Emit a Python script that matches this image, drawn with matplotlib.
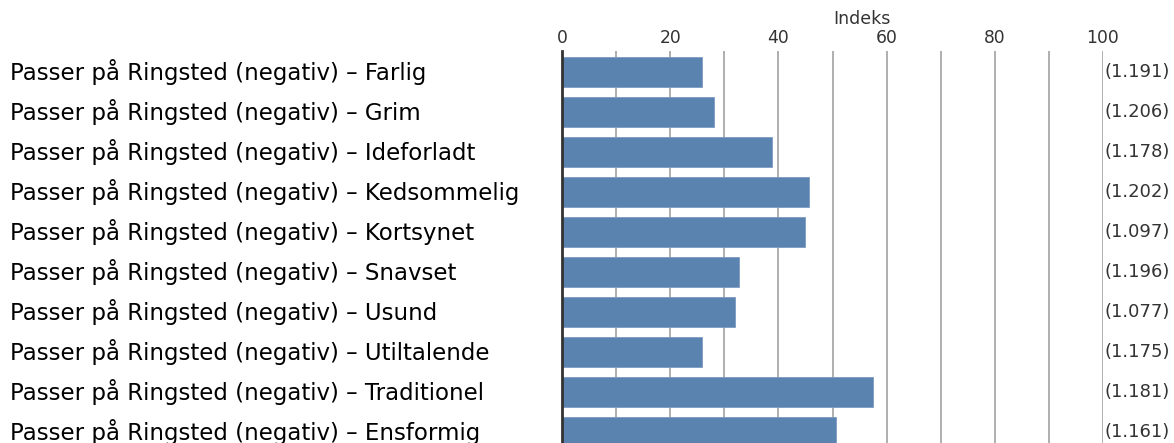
import numpy
import matplotlib
matplotlib.use('Agg')
import matplotlib.pyplot
import matplotlib.transforms

prefix = 'Passer på Ringsted (negativ) – '
categories = ['Farlig', 'Grim', 'Ideforladt', 'Kedsommelig', 'Kortsynet',
              'Snavset', 'Usund', 'Utiltalende', 'Traditionel', 'Ensformig']
values = [25.9, 28.1, 38.9, 45.7, 45.0, 32.8, 31.9, 25.9, 57.4, 50.6]
side_values = ['1.191', '1.206', '1.178', '1.202', '1.097',
               '1.196', '1.077', '1.175', '1.181', '1.161']
x_ticks = [0, 20, 40, 60, 80, 100]

matplotlib.rcParams['font.family'] = ['DejaVu Sans']

figure = matplotlib.pyplot.figure(figsize=(11.74, 4.43), dpi=100, facecolor='white')
# axes placed by pixel: 0 at x=562, 100 at x=1103, top at y=51, bottom at figure edge
ax = figure.add_axes([562 / 1174, 0, (1103 - 562) / 1174, (443 - 51) / 443])

y = numpy.arange(len(categories))
ax.barh(y, values, height=0.75, color='#5a83b0', edgecolor='#7d9cc2', linewidth=0.6, zorder=3)

ax.set_xlim(0, 100)
ax.set_ylim(9.28, -0.52)

# grid every 10
for g in range(10, 101, 10):
    ax.axvline(g, color='#9a9a9a', linewidth=1.1, zorder=1)

ax.set_xticks(x_ticks)
ax.set_xticklabels([str(t) for t in x_ticks], fontsize=12.3, color='#333333')
ax.xaxis.tick_top()
ax.tick_params(axis='x', length=0, pad=3)
ax.set_yticks([])

for side in ['top', 'right', 'bottom']:
    ax.spines[side].set_visible(False)
ax.spines['left'].set_color('#333333')
ax.spines['left'].set_linewidth(2)
ax.spines['left'].set_zorder(4)

figure.text(862 / 1174, 1 - 19 / 443, 'Indeks', ha='center', va='center',
            fontsize=12.5, color='#333333')

trans = matplotlib.transforms.blended_transform_factory(figure.transFigure, ax.transData)
for i, name in enumerate(categories):
    figure.text(10 / 1174, i, prefix + name, transform=trans, ha='left', va='center',
                fontsize=16.5, color='black')
    figure.text(1104 / 1174, i, '(' + side_values[i] + ')', transform=trans, ha='left',
                va='center', fontsize=13, color='#333333')

matplotlib.pyplot.savefig('out.png', dpi=100, facecolor='white')
